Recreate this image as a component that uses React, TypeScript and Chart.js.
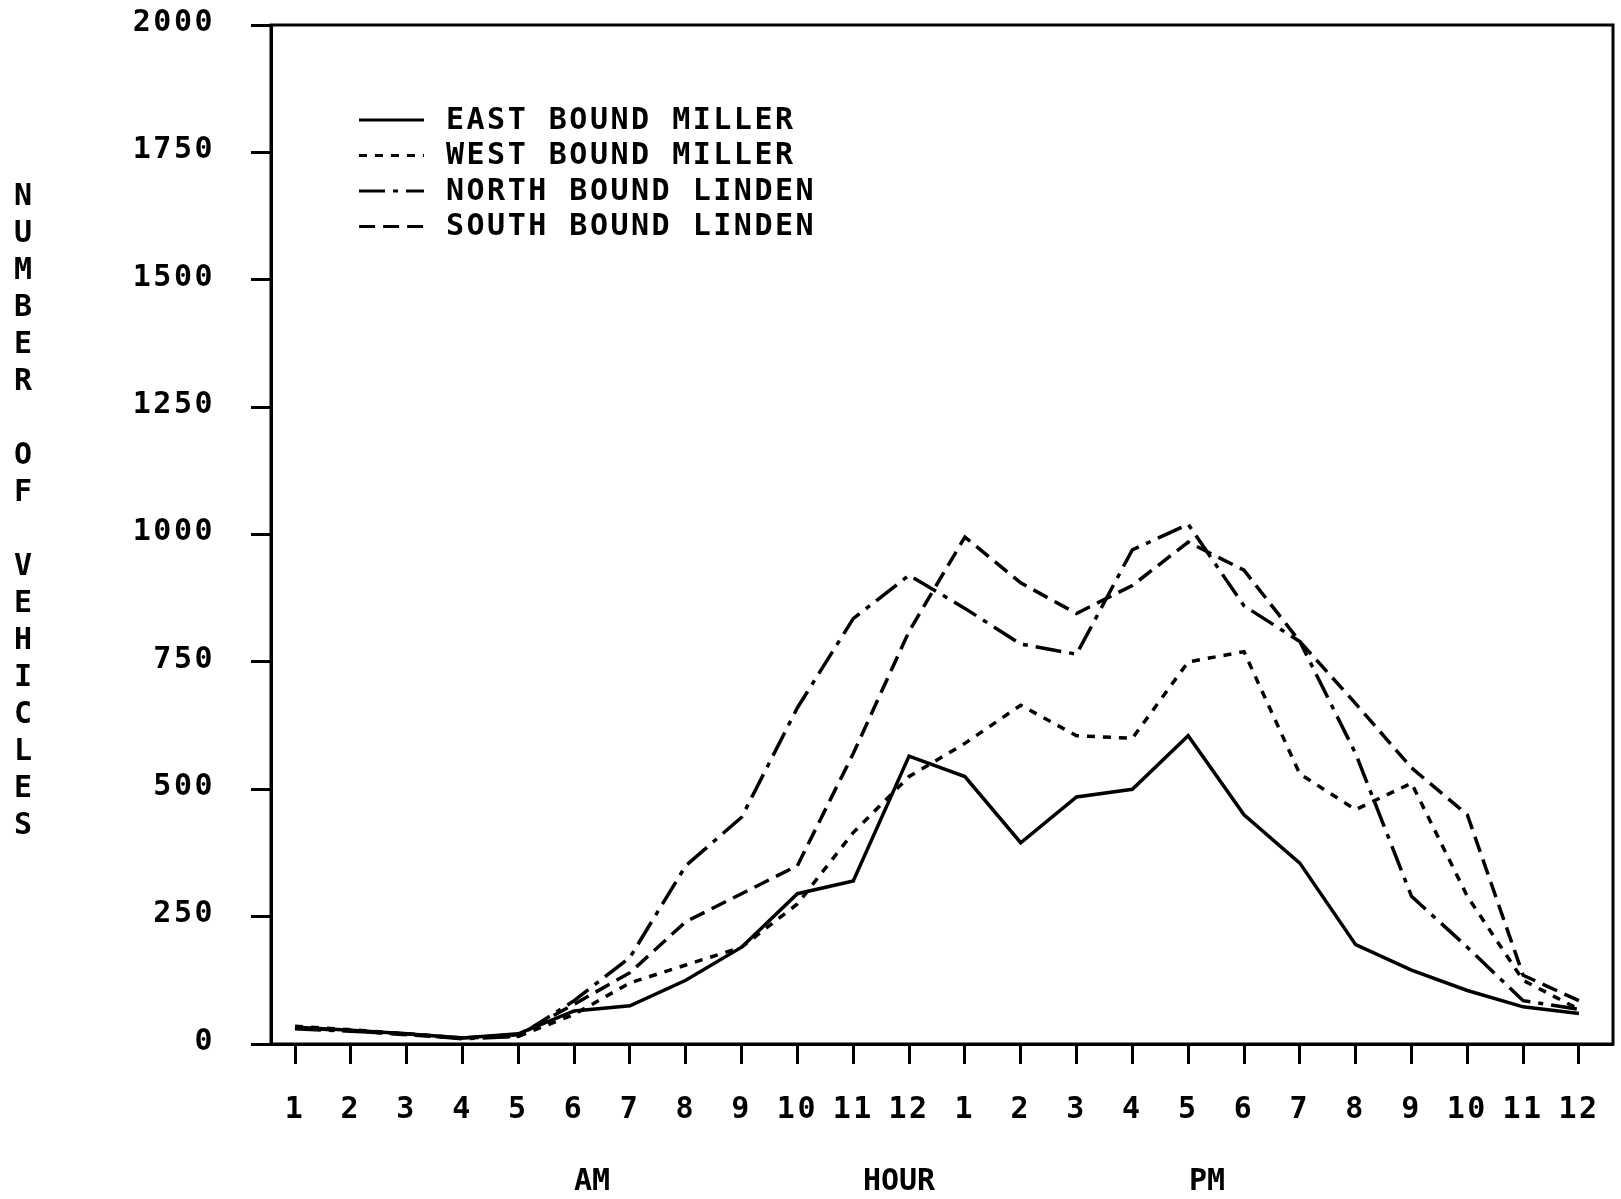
import React, { useEffect, useRef } from 'react';
import { Chart, registerables } from 'chart.js';

Chart.register(...registerables);

// ---- data ----
const hourLabels = ['1', '2', '3', '4', '5', '6', '7', '8', '9', '10', '11', '12',
  '1', '2', '3', '4', '5', '6', '7', '8', '9', '10', '11', '12'];

const eastBoundMiller = [33, 27, 20, 12, 20, 65, 75, 125, 190, 295, 320, 565,
  525, 395, 485, 500, 605, 450, 355, 195, 145, 105, 73, 60];
const westBoundMiller = [35, 28, 20, 12, 15, 58, 120, 155, 190, 275, 415, 525,
  590, 665, 605, 600, 750, 770, 530, 460, 512, 290, 125, 68];
const northBoundLinden = [30, 25, 20, 10, 15, 85, 170, 350, 445, 660, 835, 920,
  855, 785, 765, 970, 1020, 860, 790, 570, 290, 190, 85, 68];
const southBoundLinden = [32, 26, 18, 12, 18, 78, 140, 240, 295, 350, 570, 810,
  995, 905, 845, 900, 985, 930, 790, 668, 542, 450, 135, 85];

const seriesNames = ['EAST BOUND MILLER', 'WEST BOUND MILLER', 'NORTH BOUND LINDEN', 'SOUTH BOUND LINDEN'];
const yTitle = 'NUMBER OF VEHICLES';
const xTitle = 'HOUR';
const amLabel = 'AM';
const pmLabel = 'PM';

const FONT = "'DejaVu Sans Mono', 'Liberation Mono', monospace";
const LETTER_SPACING = '2.5px';

const dashes: number[][] = [[], [8, 8], [26, 8, 5, 8], [16, 8]];

export default function App() {
  const ref = useRef<HTMLCanvasElement>(null);

  useEffect(() => {
    const canvas = ref.current;
    if (!canvas) return;

    const toPts = (arr: number[]) => arr.map((v, i) => ({ x: i + 1, y: v }));
    const seriesData = [eastBoundMiller, westBoundMiller, northBoundLinden, southBoundLinden];

    const decorPlugin = {
      id: 'decor',
      beforeDraw(chart: any) {
        chart.ctx.letterSpacing = LETTER_SPACING;
      },
      afterDraw(chart: any) {
        const { ctx, chartArea: a } = chart;
        ctx.save();
        ctx.letterSpacing = LETTER_SPACING;
        // frame
        ctx.strokeStyle = '#000';
        ctx.lineWidth = 3;
        ctx.setLineDash([]);
        ctx.strokeRect(a.left, a.top, a.right - a.left, a.bottom - a.top);

        // legend
        ctx.font = `bold 30px ${FONT}`;
        ctx.fillStyle = '#000';
        ctx.textBaseline = 'middle';
        ctx.textAlign = 'left';
        const rowY = [120, 155.5, 191, 226.5];
        chart.data.datasets.forEach((ds: any, i: number) => {
          const y = rowY[i];
          ctx.beginPath();
          ctx.lineWidth = 3;
          ctx.setLineDash(ds.borderDash || []);
          ctx.moveTo(359, y);
          ctx.lineTo(424, y);
          ctx.stroke();
          ctx.setLineDash([]);
          ctx.fillText(ds.label, 446, y + 1);
        });

        // vertical y title (stacked letters)
        ctx.textAlign = 'center';
        ctx.letterSpacing = '0px';
        const chars = yTitle.split('');
        chars.forEach((c, i) => {
          if (c !== ' ') ctx.fillText(c, 23, 197 + i * 37);
        });

        // bottom labels
        ctx.fillText(amLabel, 592, 1182);
        ctx.fillText(xTitle, 899, 1182);
        ctx.fillText(pmLabel, 1207, 1182);
        ctx.restore();
        ctx.letterSpacing = '0px';
      },
    };

    const chart = new Chart(canvas, {
      type: 'line',
      data: {
        datasets: seriesData.map((arr, i) => ({
          label: seriesNames[i],
          data: toPts(arr),
          borderColor: '#000',
          backgroundColor: '#000',
          borderWidth: 3.5,
          borderDash: dashes[i],
          borderCapStyle: 'butt',
          pointRadius: 0,
          tension: 0,
          fill: false,
        })),
      },
      options: {
        responsive: false,
        animation: false,
        devicePixelRatio: 1,
        layout: { padding: { top: 25, right: 8, left: 0, bottom: 0 } },
        plugins: {
          legend: { display: false },
          tooltip: { enabled: false },
          title: { display: false },
        },
        scales: {
          x: {
            type: 'linear',
            min: 0.57,
            max: 24.61,
            afterBuildTicks: (scale: any) => {
              scale.ticks = hourLabels.map((_, i) => ({ value: i + 1 }));
            },
            afterFit: (scale: any) => {
              scale.height = 155;
              scale.paddingLeft = 0;
              scale.paddingRight = 0;
            },
            ticks: {
              autoSkip: false,
              maxRotation: 0,
              padding: 28,
              color: '#000',
              font: { family: FONT, size: 30, weight: 'bold' },
              callback: (v: any) => hourLabels[Math.round(Number(v)) - 1] ?? '',
            },
            grid: {
              drawOnChartArea: false,
              drawTicks: true,
              tickLength: 20,
              tickColor: '#000',
              tickWidth: 3,
            },
            border: { display: true, color: '#000', width: 3 },
          },
          y: {
            type: 'linear',
            min: 0,
            max: 2000,
            afterFit: (scale: any) => {
              scale.width = 271;
              scale.paddingTop = 0;
              scale.paddingBottom = 0;
            },
            ticks: {
              stepSize: 250,
              padding: 36,
              labelOffset: -2,
              color: '#000',
              font: { family: FONT, size: 30, weight: 'bold' },
              callback: (v: any) => String(v),
            },
            grid: {
              drawOnChartArea: false,
              drawTicks: true,
              tickLength: 20,
              tickColor: '#000',
              tickWidth: 3,
            },
            border: { display: true, color: '#000', width: 3 },
          },
        },
      },
      plugins: [decorPlugin],
    } as any);

    return () => chart.destroy();
  }, []);

  return (
    <div style={{ position: 'fixed', left: 0, top: 0, width: 1621, height: 1199, background: '#fff' }}>
      <canvas ref={ref} width={1621} height={1199} style={{ display: 'block' }} />
    </div>
  );
}
